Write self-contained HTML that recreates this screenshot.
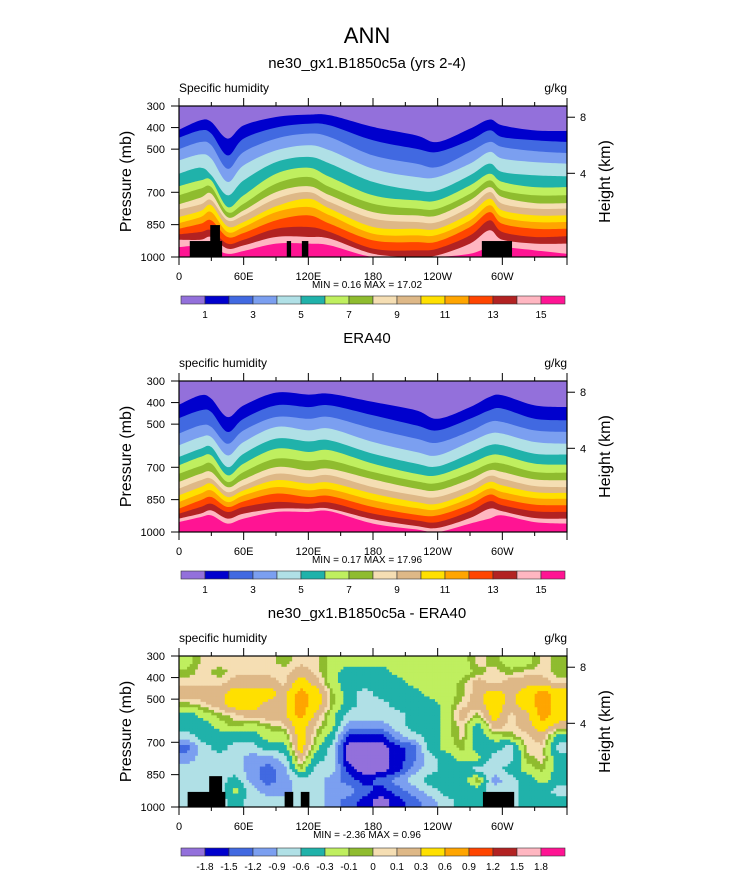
<!DOCTYPE html>
<html><head><meta charset="utf-8"><style>
html,body{margin:0;padding:0;background:#fff;}
svg{display:block;font-family:"Liberation Sans",sans-serif;}
</style></head><body>
<svg id="fig" width="733" height="888" viewBox="0 0 733 888" xmlns="http://www.w3.org/2000/svg">
<text x="367" y="43" font-size="22" text-anchor="middle">ANN</text>
</svg>
<script>
const NS='http://www.w3.org/2000/svg';
const COLORS=['#9370DB','#0000CD','#4169E1','#7B9FF0','#B0E0E6','#20B2AA','#BFEF5F','#8FBC2F','#F5DEB3','#DEB887','#FFE000','#FFA500','#FF4500','#B22222','#FFB6C1','#FF1493'];
const lons=[0,20,30,45,60,90,120,140,180,220,240,270,288,300,330,360];
// boundary pressures (mb) of levels 1..15 for each longitude, panel 1 (model)
const model=[
[410,447,500,552,614,672,714,756,780,815,843,869,895,920,954],
[366,413,467,524,586,645,683,725,756,787,815,846,884,920,946],
[374,428,482,544,621,645,676,707,737,760,792,830,876,907,954],
[451,529,591,652,714,768,792,815,830,858,884,907,938,961,985],
[390,451,513,575,645,714,753,784,807,838,861,889,920,946,972],
[351,400,451,506,560,614,660,699,730,765,792,830,869,907,938],
[340,382,428,482,536,586,629,672,699,730,768,807,861,907,938],
[343,390,444,506,567,629,676,714,745,776,807,846,884,915,946],
[397,459,529,591,652,714,753,792,822,861,892,923,961,985,1000],
[436,498,567,629,691,737,776,807,838,869,900,931,969,1000,1000],
[467,513,583,629,691,737,776,807,838,869,897,928,961,992,1000],
[405,459,513,567,621,668,707,737,768,799,830,861,900,938,985],
[363,413,467,513,567,614,645,676,699,730,760,792,830,876,954],
[390,444,490,544,606,652,691,722,753,784,815,846,884,920,954],
[413,459,509,560,621,676,714,750,776,807,838,869,907,938,969],
[416,467,518,567,626,676,714,750,776,807,838,869,904,938,985]];
// panel 2 (ERA40)
const era=[
[410,472,544,598,652,691,730,768,799,830,861,892,915,938,954],
[366,436,506,560,614,652,694,730,760,792,822,853,884,915,931],
[382,444,513,560,606,645,683,722,753,776,807,838,869,900,923],
[467,536,591,645,699,737,768,792,815,838,861,884,907,938,961],
[413,475,529,583,637,683,722,756,784,807,830,858,884,915,938],
[354,413,467,513,567,614,660,699,730,760,792,822,861,892,907],
[363,421,475,529,580,629,672,714,745,776,807,838,869,892,907],
[359,413,467,521,575,621,668,707,737,771,802,833,864,892,904],
[397,459,521,583,637,683,722,756,792,822,853,884,915,941,961],
[436,506,567,629,683,730,765,799,830,861,889,920,946,972,988],
[475,529,586,645,696,737,773,807,838,869,895,923,954,981,1000],
[421,475,533,583,637,683,722,756,787,815,843,873,904,935,961],
[374,436,490,544,598,645,683,714,740,768,799,827,858,892,938],
[366,428,490,544,598,645,683,722,753,784,815,846,876,904,923],
[413,475,529,583,637,683,722,756,787,815,843,873,904,935,954],
[421,482,536,591,641,688,725,760,792,819,846,876,907,938,961]];
// difference field (g/kg), rows at pressure centers, cols at lon centers
const diffP=[325,375,425,475,525,575,625,675,725,775,825,875,925,975];
const diffLon=[7.5,22.5,37.5,52.5,67.5,82.5,97.5,112.5,127.5,142.5,157.5,172.5,187.5,202.5,217.5,232.5,247.5,262.5,277.5,292.5,307.5,322.5,337.5,352.5];
const P=-2,D=-1.65,R=-1.35,C=-1.05,W=-0.75,T=-0.45,G=-0.2,Y=-0.05,H=0.05,B=0.2,O=0.45,A=0.75;
const diff=[
[G,H,H,H,H,H,Y,H,H,G,G,G,G,G,G,G,G,G,H,Y,G,G,H,Y],
[Y,H,Y,H,H,H,H,B,H,G,T,T,T,G,G,G,G,G,Y,H,Y,H,H,Y],
[H,H,H,B,B,B,H,O,B,G,T,T,T,T,G,G,G,Y,B,H,B,B,B,H],
[B,B,B,O,O,O,B,A,O,Y,T,W,T,T,T,G,G,Y,B,O,B,O,A,O],
[Y,H,B,O,O,B,B,A,O,Y,T,W,W,T,T,T,G,H,B,O,B,O,A,O],
[T,G,Y,H,B,B,B,A,B,G,W,W,W,W,T,T,G,B,Y,O,H,B,A,O],
[T,T,G,Y,G,Y,H,O,H,G,C,C,C,W,T,T,G,H,T,B,H,B,O,B],
[W,T,T,T,T,G,G,O,Y,T,D,D,D,C,W,T,G,H,T,G,Y,H,B,T],
[R,W,T,W,W,T,T,O,G,W,P,P,P,D,R,T,G,Y,T,T,W,H,H,W],
[C,W,W,W,C,C,W,B,T,W,P,P,P,D,R,W,T,G,G,W,W,Y,H,T],
[W,W,W,W,C,R,C,Y,W,W,D,P,P,D,C,W,T,T,W,W,T,G,Y,T],
[W,W,W,T,C,R,C,W,W,C,R,D,R,C,W,T,T,T,H,C,W,T,G,T],
[W,W,W,G,W,C,C,W,W,C,C,R,D,R,C,W,T,T,T,W,W,T,T,W],
[W,W,W,T,W,W,W,W,W,C,R,D,P,D,R,C,W,T,T,W,W,T,T,T]];
const diffLevels=[-1.8,-1.5,-1.2,-0.9,-0.6,-0.3,-0.1,0,0.1,0.3,0.6,0.9,1.2,1.5,1.8];
const landA={lon0:[10,29,100,114,281],lon1:[40,38,104,120,309],top:[926,852,926,926,926]};
const landC={lon0:[8,28,98,113,282],lon1:[43,40,106,121,311],top:[930,857,930,930,930]};
const xLabels=['0','60E','120E','180','120W','60W'];
const pTicks=[300,400,500,700,850,1000];
const hTicks=[{h:'8',p:352},{h:'4',p:612}];
const cbLabels1=['1','3','5','7','9','11','13','15'];

const svg=document.getElementById('fig');
function el(tag,attrs,parent){const e=document.createElementNS(NS,tag);for(const k in attrs)e.setAttribute(k,attrs[k]);(parent||svg).appendChild(e);return e;}
function txt(x,y,s,size,anchor,parent){const t=el('text',{x:x,y:y,'font-size':size,'text-anchor':anchor||'middle'},parent);t.textContent=s;return t;}
const X0=179,X1=567,PH=151;
function xs(lon){return X0+lon/360*(X1-X0);}

function panel(top,idx,title,leftLbl){
  const g=el('g',{});
  
  
  const ys=p=>top+(p-300)/700*PH;
  const t=txt(367,top-38,title,15,'middle',g);
  
  
  const ll=txt(X0,top-14,leftLbl,12,'start',g);
  
  
  const ul=txt(X1,top-14,'g/kg',12,'end',g);
  
  
  const clip=el('clipPath',{id:'clip'+idx},g);
  el('rect',{x:X0,y:top,width:X1-X0,height:PH},clip);
  const plot=el('g',{'clip-path':'url(#clip'+idx+')'},g);
  
  
  return {g,plot,ys,top};
}
function axes(pn,idx,minmax){
  const {g,ys,top}=pn;
  const bot=top+PH;
  el('rect',{x:X0,y:top,width:X1-X0,height:PH,fill:'none',stroke:'#000','stroke-width':1.2},g);
  for(let lon=0;lon<=360;lon+=30){
    const L=lon%60===0?8:4;
    el('line',{x1:xs(lon),x2:xs(lon),y1:top,y2:top-L,stroke:'#000'},g);
    el('line',{x1:xs(lon),x2:xs(lon),y1:bot,y2:bot+L,stroke:'#000'},g);
  }
  xLabels.forEach((s,i)=>{const t=txt(xs(i*60),bot+23,s,11,'middle',g);
    
    });
  pTicks.forEach(p=>{el('line',{x1:X0,x2:X0-8,y1:ys(p),y2:ys(p),stroke:'#000'},g);
    const t=txt(X0-14,ys(p)+4,String(p),11,'end',g);
    
    });
  hTicks.forEach(o=>{el('line',{x1:X1,x2:X1+8,y1:ys(o.p),y2:ys(o.p),stroke:'#000'},g);
    const t=txt(X1+13,ys(o.p)+4,o.h,11,'start',g);
    
    });
  const yt=txt(0,0,'Pressure (mb)',16,'middle',g);
  yt.setAttribute('transform','translate(131,'+(top+PH/2)+') rotate(-90)');
  
  
  const ht=txt(0,0,'Height (km)',16,'middle',g);
  ht.setAttribute('transform','translate(610,'+(top+PH/2)+') rotate(-90)');
  
  
  const mm=txt(367,bot+31,minmax,10,'middle',g);
  
  
}
function smoothPath(pts){
  let d=' L'+pts[0][0]+','+pts[0][1];
  for(let i=0;i<pts.length-1;i++){
    const p0=pts[Math.max(0,i-1)],p1=pts[i],p2=pts[i+1],p3=pts[Math.min(pts.length-1,i+2)];
    const c1=[p1[0]+(p2[0]-p0[0])/6,p1[1]+(p2[1]-p0[1])/6];
    const c2=[p2[0]-(p3[0]-p1[0])/6,p2[1]-(p3[1]-p1[1])/6];
    d+=' C'+c1[0]+','+c1[1]+' '+c2[0]+','+c2[1]+' '+p2[0]+','+p2[1];
  }
  return d;
}
function contourBands(pn,data){
  const {plot,ys,top}=pn;
  el('rect',{x:X0,y:top,width:X1-X0,height:PH,fill:COLORS[0]},plot);
  for(let k=0;k<15;k++){
    const pts=lons.map((lon,i)=>[xs(lon),ys(data[i][k])]);
    let d='M'+xs(lons[0])+','+(top+PH+2)+smoothPath(pts)+' L'+xs(lons[lons.length-1])+','+(top+PH+2)+' Z';
    const p=el('path',{d:d,fill:COLORS[k+1]},plot);
    
    
  }
}
function land(pn,L){
  const {plot,ys,top}=pn;
  L.lon0.forEach((a,i)=>{
    const r=el('rect',{x:xs(a),y:ys(L.top[i]),width:xs(L.lon1[i])-xs(a),height:top+PH-ys(L.top[i]),fill:'#000'},plot);
    
    
  });
}
function colorbar(y,labels,onAll,idx){
  const g=el('g',{});
  
  
  const x0=181,w=24;
  COLORS.forEach((c,i)=>{const r=el('rect',{x:x0+i*w,y:y,width:w,height:8,fill:c,stroke:'#333','stroke-width':0.6},g);
    
    });
  labels.forEach((s,i)=>{const bi=onAll?i+1:2*i+1;
    const t=txt(x0+bi*w,y+22,s,10,'middle',g);
    
    });
}
function classOf(v){let k=0;while(k<15&&v>=diffLevels[k])k++;return k;}
function sampleDiff(lon,p){
  const nc=diffLon.length,nr=diffP.length;
  let fi=(lon-diffLon[0])/(diffLon[1]-diffLon[0]);fi=Math.max(0,Math.min(nc-1,fi));
  let fj=(p-diffP[0])/(diffP[1]-diffP[0]);fj=Math.max(0,Math.min(nr-1,fj));
  const i0=Math.min(nc-2,Math.floor(fi)),j0=Math.min(nr-2,Math.floor(fj));
  const a=fi-i0,b=fj-j0;
  return diff[j0][i0]*(1-a)*(1-b)+diff[j0][i0+1]*a*(1-b)+diff[j0+1][i0]*(1-a)*b+diff[j0+1][i0+1]*a*b;
}

// Panel 1
const p1=panel(106,1,'ne30_gx1.B1850c5a (yrs 2-4)','Specific humidity');
contourBands(p1,model);land(p1,landA);axes(p1,1,'MIN =   0.16  MAX =   17.02');
colorbar(296,cbLabels1,false,1);
// Panel 2
const p2=panel(381,2,'ERA40','specific humidity');
contourBands(p2,era);axes(p2,2,'MIN =   0.17  MAX =   17.96');
colorbar(571,cbLabels1,false,2);
// Panel 3
const p3=panel(656,3,'ne30_gx1.B1850c5a - ERA40','specific humidity');
const dLon=2.5,dP=12.5;
for(let lon=0;lon<360;lon+=dLon){
  for(let p=300;p<1000;p+=dP){
    const v=sampleDiff(lon+dLon/2,p+dP/2);
    const cell=el('rect',{x:xs(lon),y:p3.ys(p),width:xs(dLon)-xs(0)+0.4,height:p3.ys(300+dP)-p3.ys(300)+0.4,fill:COLORS[classOf(v)]},p3.plot);
    
    
  }
}
land(p3,landC);axes(p3,3,'MIN =  -2.36  MAX =   0.96');
colorbar(848,diffLevels.map(String),true,3);
</script>
</body></html>
